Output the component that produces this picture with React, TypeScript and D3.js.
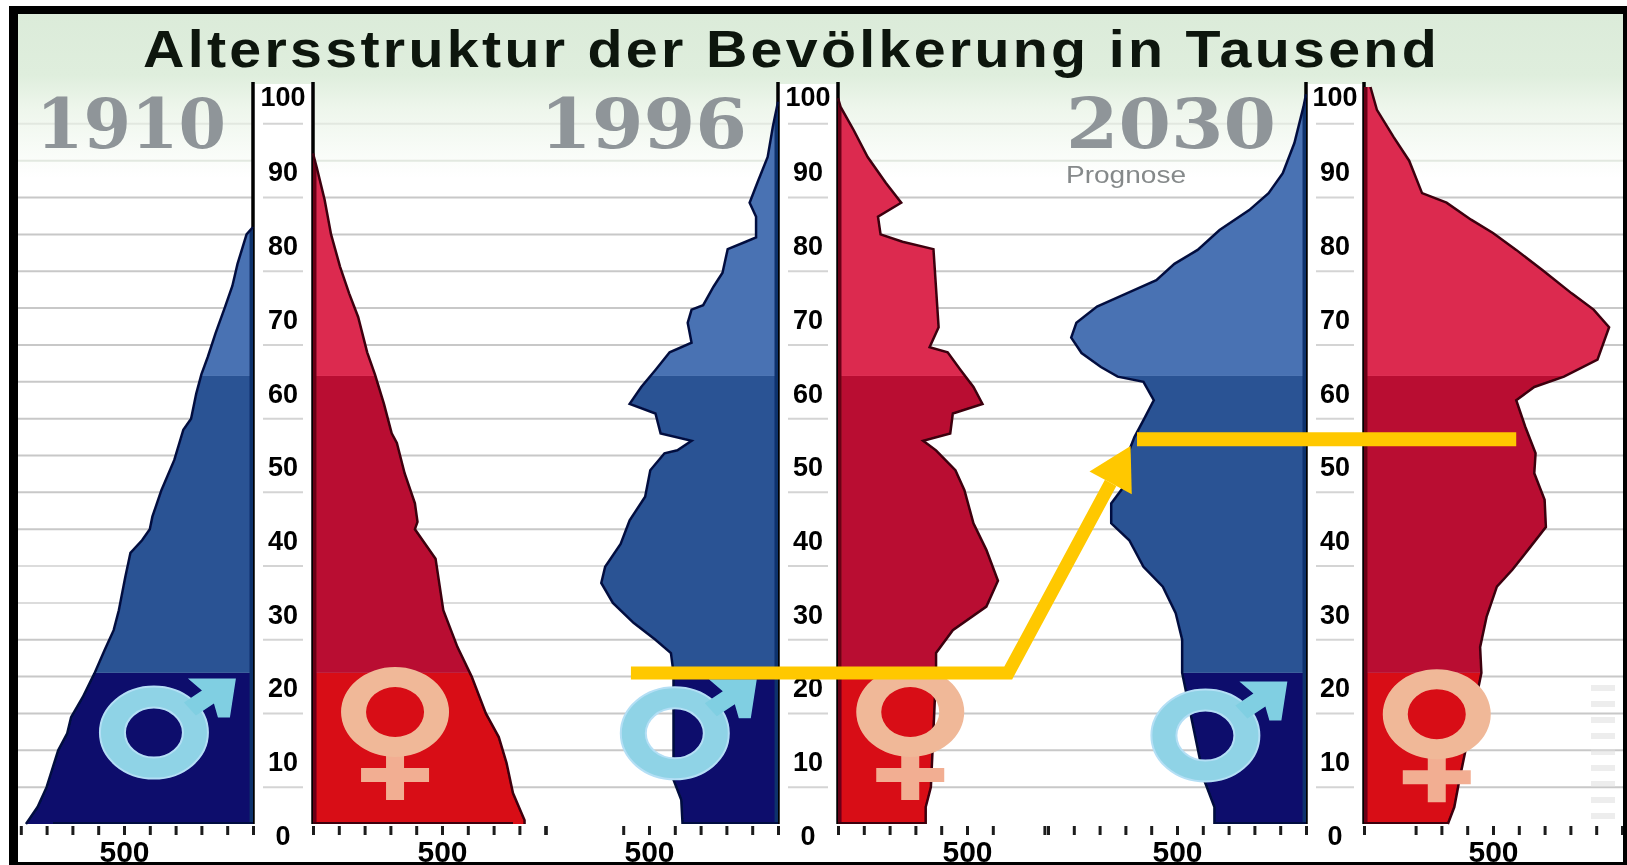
import React, { useEffect, useRef } from "react";
import * as d3 from "d3";

// [age, population in thousands]
type Row = [number, number];

const male1910: Row[] = [[0, 880], [2.3, 835], [5, 800], [7.8, 775], [10, 755], [12.3, 720], [14.5, 705], [17.2, 660], [20.4, 615], [23.6, 575], [26.3, 540], [29, 520], [33.5, 495], [36.8, 475], [38.5, 430], [40, 400], [41.7, 390], [45.3, 355], [49.4, 305], [53.5, 270], [55, 240], [58.4, 220], [61, 200], [63.4, 175], [66.6, 145], [70, 110], [73, 80], [76, 60], [80, 25], [81, 0]];
const female1910: Row[] = [[0, 820], [0.5, 820], [4.2, 775], [8.3, 750], [11.8, 720], [15, 670], [20, 615], [24, 560], [29, 505], [36, 475], [38, 435], [40, 395], [41, 405], [43.5, 395], [47.6, 355], [51.7, 325], [53, 305], [57, 275], [61, 240], [64, 210], [68.8, 175], [72, 140], [75.6, 105], [80, 70], [84.7, 45], [89, 15], [91, 0]];
const male1996: Row[] = [[0, 370], [3.3, 375], [6, 405], [20.5, 405], [23.2, 415], [25, 475], [27.3, 560], [30, 640], [32.7, 685], [34.9, 670], [38, 610], [41.2, 575], [44.4, 515], [48, 495], [50.3, 440], [50.7, 390], [52, 335], [53, 455], [55.7, 475], [57, 575], [59.3, 530], [61.6, 475], [64, 420], [65.3, 335], [68, 350], [69.8, 335], [70.4, 290], [72.9, 250], [74.8, 215], [78, 195], [79, 125], [79.6, 85], [82.4, 85], [84.3, 110], [87, 80], [90.5, 40], [94.6, 20], [98, 0]];
const female1996: Row[] = [[0, 340], [2.3, 340], [5, 360], [20.5, 380], [23.2, 380], [26.3, 445], [29.5, 575], [33, 620], [37.2, 575], [40.8, 525], [45.3, 490], [48, 455], [50.7, 380], [52, 330], [53, 435], [55.7, 445], [57, 560], [59.3, 525], [61.6, 475], [64, 425], [64.7, 355], [67.4, 390], [78, 370], [79, 250], [80, 165], [82.4, 155], [84.3, 245], [87, 185], [90.5, 115], [94.2, 60], [97.3, 10], [98.5, 0]];
const male2030: Row[] = [[0, 355], [2.3, 355], [6, 395], [20.5, 480], [25, 480], [28.6, 505], [32.2, 555], [34.9, 630], [38.5, 685], [40.8, 755], [43.5, 755], [46.3, 695], [50.7, 685], [52.5, 665], [54.8, 630], [57.5, 590], [60, 630], [60.7, 730], [62, 795], [63.9, 870], [66, 910], [68, 890], [70.2, 810], [72, 695], [73.8, 580], [76, 510], [77.9, 420], [80.6, 335], [83.3, 220], [85.6, 145], [88.3, 90], [92.4, 45], [97.3, 10], [99, 0]];
const female2030: Row[] = [[0, 325], [2.3, 350], [6, 370], [20.5, 455], [24, 450], [28.1, 475], [32.2, 515], [34.5, 575], [37.6, 645], [40.3, 705], [44, 700], [47.6, 660], [50.3, 665], [53.9, 625], [57.5, 590], [59.3, 660], [60.7, 775], [63, 905], [67.4, 950], [69.8, 890], [72, 805], [75.2, 690], [77.9, 590], [80.2, 500], [82, 415], [84.3, 320], [85.6, 225], [90, 175], [93.2, 115], [96.9, 50], [100, 25]];

const ageTicks = [0, 10, 20, 30, 40, 50, 60, 70, 80, 90, 100];
const gridAges = d3.range(5, 100, 5);
const bandAges = [20.5, 60.8];

const title = "Altersstruktur der Bevölkerung in Tausend";

const panels = [
  { year: "1910", axisL: 253, axisR: 313, yearX: 36, yearW: 190, male: male1910, female: female1910, ticksL: [0, 100, 200, 300, 400, 500, 600, 700, 800, 900], ticksR: [0, 100, 200, 300, 400, 500, 600, 700, 800, 900], symbolM: [384, 12.4], symbolF: [318, 15.2] },
  { year: "1996", axisL: 778, axisR: 838, yearX: 540, yearW: 207, male: male1996, female: female1996, ticksL: [0, 100, 200, 300, 400, 500, 600, 900], ticksR: [0, 100, 200, 300, 400, 500, 600, 800], symbolM: [400, 12.3], symbolF: [280, 15.2] },
  { year: "2030", axisL: 1306, axisR: 1364, yearX: 1066, yearW: 210, male: male2030, female: female2030, ticksL: [0, 100, 200, 300, 400, 500, 600, 700, 800, 900, 1000], ticksR: [0, 200, 300, 400, 500, 600, 700, 800, 900, 1000], symbolM: [390, 12], symbolF: [282, 14.9] },
];

// the cohort arrow from 1996 (age about 20) to 2030 (age about 52)
const cohortStart = { age: 20.5, male: 570, female: 660 };
const cohortEnd = { age: 52.2, male: 655, female: 590, tipAge: 51.3, tipPop: 680 };

const blues = ["#090a6c", "#2a5294", "#4a72b3"];
const reds = ["#d80b14", "#b91031", "#dc2b50"];

function Chart() {
  const ref = useRef<SVGSVGElement>(null);

  useEffect(() => {
    drawChart(ref.current!);
  }, []);

  return (
    <svg
      ref={ref}
      width={1627}
      height={865}
      style={{ position: "absolute", left: 0, top: 0, display: "block" }}
    />
  );
}

function drawChart(node: SVGSVGElement) {
  const svg = d3.select(node);
  svg.selectAll("*").remove();

  const y = d3.scaleLinear().domain([0, 100]).range([824, 87]);

  const defs = svg.append("defs");
  const bg = defs.append("linearGradient").attr("id", "bg").attr("x1", 0).attr("x2", 0).attr("y1", 0).attr("y2", 1);
  bg.append("stop").attr("offset", "0%").attr("stop-color", "#dbebd9");
  bg.append("stop").attr("offset", "8%").attr("stop-color", "#dfeedd");
  bg.append("stop").attr("offset", "12%").attr("stop-color", "#eef6ec");
  bg.append("stop").attr("offset", "20%").attr("stop-color", "#ffffff");
  defs.append("filter").attr("id", "soft")
    .append("feGaussianBlur").attr("stdDeviation", 0.7);

  const root = svg.append("g").attr("filter", "url(#soft)");

  root.append("rect").attr("x", 9).attr("y", 6).attr("width", 1618).attr("height", 859).attr("fill", "url(#bg)");

  // horizontal rules every five years
  root.append("g").selectAll("line").data(gridAges).enter().append("line")
    .attr("x1", 18).attr("x2", 1623)
    .attr("y1", (d) => y(d)).attr("y2", (d) => y(d))
    .attr("stroke", (d) => (d >= 90 ? "#e2e8e0" : d === 30 || d === 35 ? "#dcdcdc" : "#c8c8c8"))
    .attr("stroke-width", 2);

  panels.forEach((p, i) => {
    const xMale = d3.scaleLinear().domain([0, 1000]).range([p.axisL, p.axisL - 258]);
    const xFemale = d3.scaleLinear().domain([0, 1000]).range([p.axisR, p.axisR + 258]);
    const g = root.append("g");

    // white gutter with the age scale
    g.append("rect").attr("x", p.axisL).attr("y", 84).attr("width", p.axisR - p.axisL).attr("height", 745).attr("fill", "#fff");
    g.append("g").selectAll("line").data(gridAges.filter((a) => a % 10 === 5)).enter().append("line")
      .attr("x1", p.axisL + 10).attr("x2", p.axisR - 10)
      .attr("y1", (d) => y(d)).attr("y2", (d) => y(d))
      .attr("stroke", "#d4d4d4").attr("stroke-width", 2);

    [p.axisL, p.axisR].forEach((x) => {
      g.append("line").attr("x1", x).attr("x2", x).attr("y1", 82).attr("y2", y(0))
        .attr("stroke", "#000").attr("stroke-width", 3.5);
    });

    const sides = [
      { rows: p.male, x: xMale, colors: blues, edge: "#06103f", inner: "#10306c", id: "m" + i, axis: p.axisL },
      { rows: p.female, x: xFemale, colors: reds, edge: "#3d0010", inner: "#6b0018", id: "f" + i, axis: p.axisR },
    ];

    sides.forEach((s) => {
      const area = d3.area<Row>().y((d) => y(d[0])).x0(s.axis).x1((d) => s.x(d[1]));
      const line = d3.line<Row>().y((d) => y(d[0])).x((d) => s.x(d[1]));

      defs.append("clipPath").attr("id", s.id).append("path").attr("d", area(s.rows)!);

      const bands = [
        [0, bandAges[0]],
        [bandAges[0], bandAges[1]],
        [bandAges[1], 100],
      ];
      const clipped = g.append("g").attr("clip-path", `url(#${s.id})`);
      bands.forEach((b, k) => {
        clipped.append("rect")
          .attr("x", s.axis - 300).attr("width", 600)
          .attr("y", y(b[1])).attr("height", y(b[0]) - y(b[1]))
          .attr("fill", s.colors[k]);
      });
      clipped.append("line")
        .attr("x1", s.axis - 300).attr("x2", s.axis + 300)
        .attr("y1", y(bandAges[1]) - 1).attr("y2", y(bandAges[1]) - 1)
        .attr("stroke", s.colors[2]).attr("stroke-width", 2).attr("stroke-opacity", 0.8);
      clipped.append("line")
        .attr("x1", s.axis).attr("x2", s.axis)
        .attr("y1", y(100)).attr("y2", y(0))
        .attr("stroke", s.inner).attr("stroke-width", 7);

      g.append("path").attr("d", line(s.rows)!)
        .attr("fill", "none").attr("stroke", s.edge).attr("stroke-width", 2.5);
      g.append("line").attr("x1", s.axis - 200).attr("x2", s.axis + 200)
        .attr("y1", y(0)).attr("y2", y(0))
        .attr("clip-path", `url(#${s.id})`)
        .attr("stroke", s.edge).attr("stroke-width", 4);
    });

    // population axes
    const axisStyle = (a: d3.Selection<SVGGElement, unknown, null, undefined>) => {
      a.select(".domain").remove();
      a.selectAll("line").attr("stroke", "#1c1c1c").attr("stroke-width", 3);
      a.selectAll("text")
        .attr("fill", "#000").attr("font-size", 30).attr("font-weight", "bold")
        .attr("font-family", "'Liberation Sans', Arial, sans-serif")
        .attr("y", 14).attr("dy", "0.72em");
    };
    const fmt = (d: d3.NumberValue) => (+d === 500 ? "500" : "");
    g.append("g").attr("transform", `translate(0,${y(0) + 2})`)
      .call(d3.axisBottom(xMale).tickValues(p.ticksL).tickSize(9).tickFormat(fmt))
      .call(axisStyle as any);
    g.append("g").attr("transform", `translate(0,${y(0) + 2})`)
      .call(d3.axisBottom(xFemale).tickValues(p.ticksR).tickSize(9).tickFormat(fmt))
      .call(axisStyle as any);

    // age labels
    g.append("g").selectAll("text").data(ageTicks).enter().append("text")
      .attr("x", (p.axisL + p.axisR) / 2)
      .attr("y", (d) => y(d) + (d === 100 ? 9 : 11))
      .attr("dy", "0.36em")
      .attr("text-anchor", "middle")
      .attr("font-family", "'Liberation Sans', Arial, sans-serif")
      .attr("font-weight", "bold")
      .attr("font-size", 27)
      .attr("fill", "#000")
      .text((d) => d);

    // year
    g.append("text")
      .attr("x", p.yearX).attr("y", 148)
      .attr("textLength", p.yearW).attr("lengthAdjust", "spacingAndGlyphs")
      .attr("font-family", "'DejaVu Serif', serif").attr("font-weight", "bold")
      .attr("font-size", 70).attr("fill", "#8f9599")
      .text(p.year);

    // male sign
    const m = g.append("g").attr("transform", `translate(${xMale(p.symbolM[0])},${y(p.symbolM[1])})`);
    m.append("path")
      .attr("d", "M-54,0A54,46 0 1,0 54,0A54,46 0 1,0 -54,0ZM-29,0A29,25 0 1,1 29,0A29,25 0 1,1 -29,0Z")
      .attr("fill", "#8fd3e6").attr("fill-rule", "evenodd")
      .attr("stroke", "#b4dff5").attr("stroke-width", 2);
    m.append("path")
      .attr("d", "M34,-54L82,-54L76,-15L64,-15L60,-29L42,-17L30,-30L48,-42Z")
      .attr("fill", "#80cfe2");

    // female sign
    const f = g.append("g").attr("transform", `translate(${xFemale(p.symbolF[0])},${y(p.symbolF[1])})`);
    f.append("path")
      .attr("d", "M-9,38L9,38L9,56L34,56L34,70L9,70L9,88L-9,88L-9,70L-34,70L-34,56L-9,56Z")
      .attr("fill", "#f2ae92");
    f.append("path")
      .attr("d", "M-54,0A54,45 0 1,0 54,0A54,45 0 1,0 -54,0ZM-29,0A29,25 0 1,1 29,0A29,25 0 1,1 -29,0Z")
      .attr("fill", "#f0b898").attr("fill-rule", "evenodd");
  });

  root.append("text")
    .attr("x", 1066).attr("y", 183)
    .attr("textLength", 120).attr("lengthAdjust", "spacingAndGlyphs")
    .attr("font-family", "'Liberation Sans', Arial, sans-serif")
    .attr("font-size", 24).attr("fill", "#85898a")
    .text("Prognose");

  // title, stretched wide like the original lettering
  root.append("text")
    .attr("x", 143).attr("y", 67)
    .attr("textLength", 1297).attr("lengthAdjust", "spacingAndGlyphs")
    .attr("letter-spacing", 3)
    .attr("font-family", "'Liberation Sans', Arial, sans-serif")
    .attr("font-weight", "bold").attr("font-size", 52).attr("fill", "#0b140c")
    .text(title);

  // cohort arrow
  const p96 = panels[1];
  const p30 = panels[2];
  const x96M = d3.scaleLinear().domain([0, 1000]).range([p96.axisL, p96.axisL - 258]);
  const x96F = d3.scaleLinear().domain([0, 1000]).range([p96.axisR, p96.axisR + 258]);
  const x30M = d3.scaleLinear().domain([0, 1000]).range([p30.axisL, p30.axisL - 258]);
  const x30F = d3.scaleLinear().domain([0, 1000]).range([p30.axisR, p30.axisR + 258]);
  const yellow = "#ffc800";
  const tip: [number, number] = [x30M(cohortEnd.tipPop), y(cohortEnd.tipAge)];
  const knee: [number, number] = [x96F(cohortStart.female), y(cohortStart.age)];
  const dx = knee[0] - tip[0];
  const dy = knee[1] - tip[1];
  const len = Math.hypot(dx, dy);
  const ux = dx / len;
  const uy = dy / len;
  const headLen = 42;
  const headHalf = 24;
  const neck: [number, number] = [tip[0] + ux * headLen, tip[1] + uy * headLen];

  const annot = svg.append("g");
  annot.append("path")
    .attr("d", d3.line()([[x96M(cohortStart.male), y(cohortStart.age)], knee, neck])!)
    .attr("fill", "none").attr("stroke", yellow).attr("stroke-width", 13).attr("stroke-linejoin", "miter");
  annot.append("path")
    .attr("d", d3.line()([tip, [neck[0] - uy * headHalf, neck[1] + ux * headHalf], [neck[0] + uy * headHalf, neck[1] - ux * headHalf]])! + "Z")
    .attr("fill", yellow);
  annot.append("line")
    .attr("x1", x30M(cohortEnd.male)).attr("x2", x30F(cohortEnd.female))
    .attr("y1", y(cohortEnd.age)).attr("y2", y(cohortEnd.age))
    .attr("stroke", yellow).attr("stroke-width", 14);

  // faint source credit strip at the right
  svg.append("line")
    .attr("x1", 1603).attr("x2", 1603).attr("y1", 685).attr("y2", 822)
    .attr("stroke", "#dedede").attr("stroke-width", 24)
    .attr("stroke-dasharray", "6 10").attr("stroke-opacity", 0.55);

  // frame
  svg.append("rect").attr("x", 9).attr("y", 6).attr("width", 9).attr("height", 859).attr("fill", "#000");
  svg.append("rect").attr("x", 9).attr("y", 6).attr("width", 1618).attr("height", 8).attr("fill", "#000");
  svg.append("rect").attr("x", 1623).attr("y", 6).attr("width", 4).attr("height", 859).attr("fill", "#000");
  svg.append("rect").attr("x", 9).attr("y", 862).attr("width", 1618).attr("height", 3).attr("fill", "#000");
}

export default function App() {
  return <Chart />;
}
